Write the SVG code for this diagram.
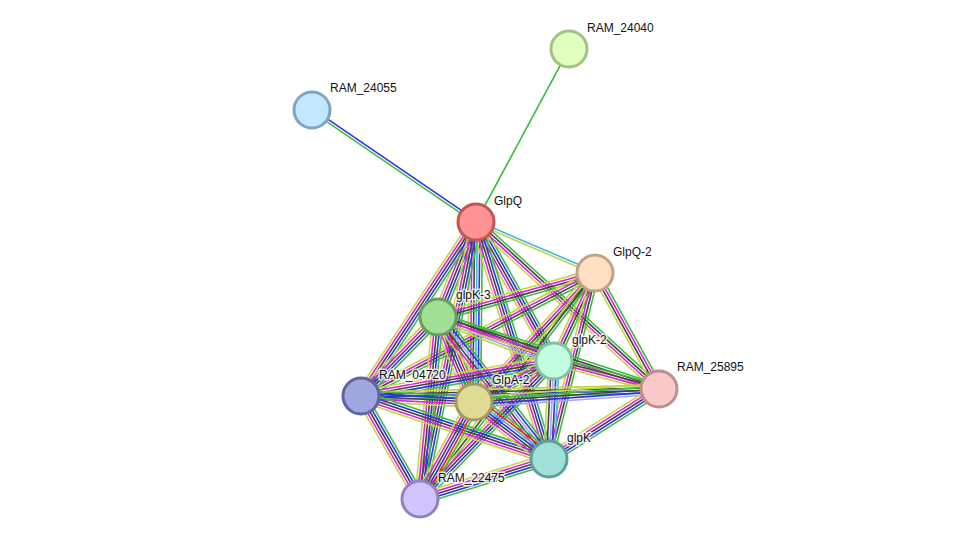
<svg xmlns="http://www.w3.org/2000/svg" width="975" height="545" viewBox="0 0 975 545">
<style>
path{fill:none;stroke-width:1.6}
.g{stroke:#3dbd3d}.b{stroke:#3030f0}.k{stroke:#444}.m{stroke:#e020e0}.y{stroke:#c2d646}.c{stroke:#40b8e0}.r{stroke:#f02020}.l{stroke:#a4a4f6}
.n circle{stroke-width:3}
text{font-family:"Liberation Sans",Arial,sans-serif;font-size:12px;fill:#111;stroke:#fff;stroke-width:3;stroke-opacity:0.8;paint-order:stroke;stroke-linejoin:round}
</style>
<rect width="975" height="545" fill="#fff"/>
<g id="edges">
<g transform="translate(476 222) rotate(-61.74)"><path class="g" d="M0 0H196.4"/></g>
<g transform="translate(476 222) rotate(-145.67)"><path class="g" d="M0 -1.3H198.6"/><path class="b" d="M0 1.3H198.6"/></g>
<g transform="translate(476 222) rotate(23.2)"><path class="c" d="M0 -1.3H129.5"/><path class="y" d="M0 1.3H129.5"/></g>
<g transform="translate(476 222) rotate(111.8)"><path class="g" d="M0 -5.2H102.3"/><path class="b" d="M0 -2.6H102.3"/><path class="k" d="M0 0H102.3"/><path class="m" d="M0 2.6H102.3"/><path class="y" d="M0 5.2H102.3"/></g>
<g transform="translate(476 222) rotate(60.7)"><path class="g" d="M0 -5.2H159.4"/><path class="b" d="M0 -2.6H159.4"/><path class="k" d="M0 0H159.4"/><path class="m" d="M0 2.6H159.4"/><path class="y" d="M0 5.2H159.4"/></g>
<g transform="translate(476 222) rotate(42.4)"><path class="g" d="M0 -3.9H247.7"/><path class="k" d="M0 -1.3H247.7"/><path class="m" d="M0 1.3H247.7"/><path class="y" d="M0 3.9H247.7"/></g>
<g transform="translate(476 222) rotate(123.5)"><path class="g" d="M0 -5.2H208.6"/><path class="b" d="M0 -2.6H208.6"/><path class="k" d="M0 0H208.6"/><path class="m" d="M0 2.6H208.6"/><path class="y" d="M0 5.2H208.6"/></g>
<g transform="translate(476 222) rotate(90.6)"><path class="g" d="M0 -6.5H180"/><path class="b" d="M0 -3.9H180"/><path class="c" d="M0 -1.3H180"/><path class="k" d="M0 1.3H180"/><path class="m" d="M0 3.9H180"/><path class="y" d="M0 6.5H180"/></g>
<g transform="translate(476 222) rotate(72.9)"><path class="g" d="M0 -5.2H248"/><path class="b" d="M0 -2.6H248"/><path class="k" d="M0 0H248"/><path class="m" d="M0 2.6H248"/><path class="y" d="M0 5.2H248"/></g>
<g transform="translate(476 222) rotate(101.4)"><path class="g" d="M0 -5.2H282.6"/><path class="b" d="M0 -2.6H282.6"/><path class="k" d="M0 0H282.6"/><path class="m" d="M0 2.6H282.6"/><path class="y" d="M0 5.2H282.6"/></g>
<g transform="translate(595 273) rotate(164.3)"><path class="g" d="M0 -3.9H163"/><path class="k" d="M0 -1.3H163"/><path class="m" d="M0 1.3H163"/><path class="y" d="M0 3.9H163"/></g>
<g transform="translate(595 273) rotate(115)"><path class="g" d="M0 -3.9H97.1"/><path class="k" d="M0 -1.3H97.1"/><path class="m" d="M0 1.3H97.1"/><path class="y" d="M0 3.9H97.1"/></g>
<g transform="translate(595 273) rotate(61.1)"><path class="g" d="M0 -3.9H132.5"/><path class="m" d="M0 -1.3H132.5"/><path class="k" d="M0 1.3H132.5"/><path class="y" d="M0 3.9H132.5"/></g>
<g transform="translate(595 273) rotate(152.3)"><path class="g" d="M0 -3.9H264.4"/><path class="k" d="M0 -1.3H264.4"/><path class="m" d="M0 1.3H264.4"/><path class="y" d="M0 3.9H264.4"/></g>
<g transform="translate(595 273) rotate(133.2)"><path class="g" d="M0 -3.9H176.9"/><path class="k" d="M0 -1.3H176.9"/><path class="m" d="M0 1.3H176.9"/><path class="y" d="M0 3.9H176.9"/></g>
<g transform="translate(595 273) rotate(103.9)"><path class="g" d="M0 -3.9H191.6"/><path class="k" d="M0 -1.3H191.6"/><path class="m" d="M0 1.3H191.6"/><path class="y" d="M0 3.9H191.6"/></g>
<g transform="translate(595 273) rotate(127.75)"><path class="g" d="M0 -2.6H285.8"/><path class="k" d="M0 0H285.8"/><path class="y" d="M0 2.6H285.8"/></g>
<g transform="translate(438 317) rotate(20.8)"><path class="g" d="M0 -5.2H124.1"/><path class="k" d="M0 -2.6H124.1"/><path class="m" d="M0 0H124.1"/><path class="l" d="M0 2.6H124.1"/><path class="y" d="M0 5.2H124.1"/></g>
<g transform="translate(438 317) rotate(18)"><path class="g" d="M0 -3.9H232.4"/><path class="k" d="M0 -1.3H232.4"/><path class="m" d="M0 1.3H232.4"/><path class="y" d="M0 3.9H232.4"/></g>
<g transform="translate(438 317) rotate(134.3)"><path class="g" d="M0 -5.2H110.3"/><path class="b" d="M0 -2.6H110.3"/><path class="k" d="M0 0H110.3"/><path class="m" d="M0 2.6H110.3"/><path class="y" d="M0 5.2H110.3"/></g>
<g transform="translate(438 317) rotate(67)"><path class="g" d="M0 -6.5H92.3"/><path class="r" d="M0 -3.9H92.3"/><path class="b" d="M0 -1.3H92.3"/><path class="k" d="M0 1.3H92.3"/><path class="m" d="M0 3.9H92.3"/><path class="y" d="M0 6.5H92.3"/></g>
<g transform="translate(438 317) rotate(52)"><path class="g" d="M0 -6.5H180.2"/><path class="b" d="M0 -3.9H180.2"/><path class="l" d="M0 -1.3H180.2"/><path class="k" d="M0 1.3H180.2"/><path class="m" d="M0 3.9H180.2"/><path class="y" d="M0 6.5H180.2"/></g>
<g transform="translate(438 317) rotate(95.65)"><path class="g" d="M0 -5.2H182.9"/><path class="b" d="M0 -2.6H182.9"/><path class="k" d="M0 0H182.9"/><path class="m" d="M0 2.6H182.9"/><path class="y" d="M0 5.2H182.9"/></g>
<g transform="translate(554 361) rotate(14.9)"><path class="g" d="M0 -3.9H108.7"/><path class="k" d="M0 -1.3H108.7"/><path class="m" d="M0 1.3H108.7"/><path class="y" d="M0 3.9H108.7"/></g>
<g transform="translate(554 361) rotate(169.7)"><path class="g" d="M0 -5.2H196.1"/><path class="b" d="M0 -2.6H196.1"/><path class="k" d="M0 0H196.1"/><path class="m" d="M0 2.6H196.1"/><path class="y" d="M0 5.2H196.1"/></g>
<g transform="translate(554 361) rotate(152.9)"><path class="g" d="M0 -5.2H89.9"/><path class="b" d="M0 -2.6H89.9"/><path class="k" d="M0 0H89.9"/><path class="m" d="M0 2.6H89.9"/><path class="y" d="M0 5.2H89.9"/></g>
<g transform="translate(554 361) rotate(92.9)"><path class="c" d="M0 -5.2H98.1"/><path class="b" d="M0 -2.6H98.1"/><path class="l" d="M0 0H98.1"/><path class="k" d="M0 2.6H98.1"/><path class="y" d="M0 5.2H98.1"/></g>
<g transform="translate(554 361) rotate(134.2)"><path class="g" d="M0 -5.2H192.4"/><path class="b" d="M0 -2.6H192.4"/><path class="k" d="M0 0H192.4"/><path class="m" d="M0 2.6H192.4"/><path class="y" d="M0 5.2H192.4"/></g>
<g transform="translate(659 389) rotate(178.65)"><path class="g" d="M0 -3.9H298.1"/><path class="b" d="M0 -1.3H298.1"/><path class="k" d="M0 1.3H298.1"/><path class="y" d="M0 3.9H298.1"/></g>
<g transform="translate(659 389) rotate(176)"><path class="l" d="M0 -5.2H185.5"/><path class="b" d="M0 -2.6H185.5"/><path class="k" d="M0 0H185.5"/><path class="g" d="M0 2.6H185.5"/><path class="y" d="M0 5.2H185.5"/></g>
<g transform="translate(659 389) rotate(147.5)"><path class="g" d="M0 -5.2H130.4"/><path class="b" d="M0 -2.6H130.4"/><path class="k" d="M0 0H130.4"/><path class="m" d="M0 2.6H130.4"/><path class="y" d="M0 5.2H130.4"/></g>
<g transform="translate(361 396) rotate(3)"><path class="g" d="M0 -5.2H113.2"/><path class="b" d="M0 -2.6H113.2"/><path class="k" d="M0 0H113.2"/><path class="m" d="M0 2.6H113.2"/><path class="y" d="M0 5.2H113.2"/></g>
<g transform="translate(361 396) rotate(18.5)"><path class="g" d="M0 -5.2H198.3"/><path class="b" d="M0 -2.6H198.3"/><path class="k" d="M0 0H198.3"/><path class="m" d="M0 2.6H198.3"/><path class="y" d="M0 5.2H198.3"/></g>
<g transform="translate(361 396) rotate(60.2)"><path class="g" d="M0 -5.2H118.7"/><path class="b" d="M0 -2.6H118.7"/><path class="k" d="M0 0H118.7"/><path class="m" d="M0 2.6H118.7"/><path class="y" d="M0 5.2H118.7"/></g>
<g transform="translate(474 402) rotate(37.2)"><path class="g" d="M0 -7.8H94.2"/><path class="r" d="M0 -5.2H94.2"/><path class="c" d="M0 -2.6H94.2"/><path class="b" d="M0 0H94.2"/><path class="k" d="M0 2.6H94.2"/><path class="m" d="M0 5.2H94.2"/><path class="y" d="M0 7.8H94.2"/></g>
<g transform="translate(474 402) rotate(119.1)"><path class="g" d="M0 -6.5H111"/><path class="r" d="M0 -3.9H111"/><path class="b" d="M0 -1.3H111"/><path class="k" d="M0 1.3H111"/><path class="m" d="M0 3.9H111"/><path class="y" d="M0 6.5H111"/></g>
<g transform="translate(549 459) rotate(162.8)"><path class="g" d="M0 -5.2H135.1"/><path class="b" d="M0 -2.6H135.1"/><path class="k" d="M0 0H135.1"/><path class="m" d="M0 2.6H135.1"/><path class="y" d="M0 5.2H135.1"/></g>
</g>
<g id="RAM_24040" class="n"><circle cx="569" cy="49" r="18" fill="#e0ffc0" stroke="#a2c284"/><text x="587" y="32">RAM_24040</text></g>
<g id="RAM_24055" class="n"><circle cx="312" cy="110" r="18" fill="#c2e8ff" stroke="#7ea6c0"/><text x="330" y="92">RAM_24055</text></g>
<g id="GlpQ" class="n"><circle cx="476" cy="222" r="18" fill="#ff9292" stroke="#c05656"/><text x="494" y="205">GlpQ</text></g>
<g id="GlpQ-2" class="n"><circle cx="595" cy="273" r="18" fill="#ffdfc2" stroke="#c0a286"/><text x="613" y="256">GlpQ-2</text></g>
<g id="glpK-3" class="n"><circle cx="438" cy="317" r="18" fill="#a0df94" stroke="#64a05c"/><text x="456" y="299">glpK-3</text></g>
<g id="glpK-2" class="n"><circle cx="554" cy="361" r="18" fill="#c2ffe0" stroke="#82c0a0"/><text x="572" y="344">glpK-2</text></g>
<g id="RAM_25895" class="n"><circle cx="659" cy="389" r="18" fill="#f9c8c8" stroke="#c08c8c"/><text x="677" y="371">RAM_25895</text></g>
<g id="RAM_04720" class="n"><circle cx="361" cy="396" r="18" fill="#a0a6e0" stroke="#5e66a0"/><text x="379" y="379">RAM_04720</text></g>
<g id="GlpA-2" class="n"><circle cx="474" cy="402" r="18" fill="#dfdb96" stroke="#a09c5e"/><text x="492" y="384">GlpA-2</text></g>
<g id="glpK" class="n"><circle cx="549" cy="459" r="18" fill="#a0e0d8" stroke="#5ea098"/><text x="567" y="442">glpK</text></g>
<g id="RAM_22475" class="n"><circle cx="420" cy="499" r="18" fill="#d2c4ff" stroke="#9282c0"/><text x="438" y="482">RAM_22475</text></g>
</svg>
